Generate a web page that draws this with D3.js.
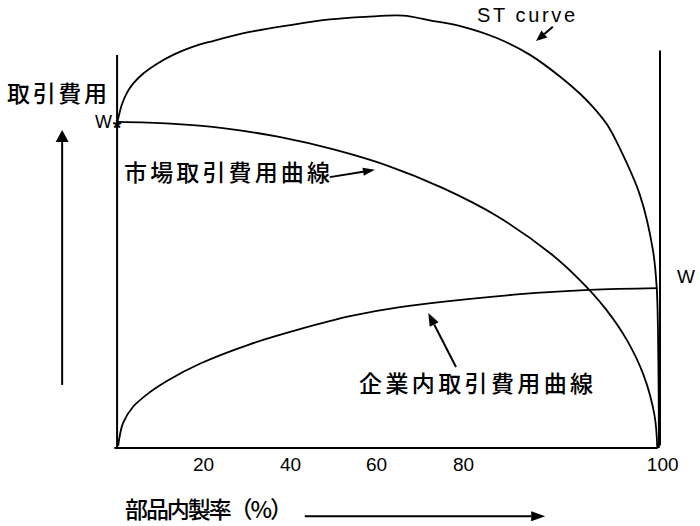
<!DOCTYPE html>
<html><head><meta charset="utf-8">
<script src="https://cdn.jsdelivr.net/npm/d3@7"></script>
<style>html,body{margin:0;padding:0;background:#fff}</style>
</head><body>
<svg id="c" width="700" height="526"></svg>
<script>
// ---- data (x: in-house production share, y: transaction cost, both in chart units) ----
const stX = [0.2, 0.4, 1.05, 1.96, 3.18, 5.02, 7.48, 10.5, 14.2, 17.8, 24.6, 32.0, 39.3, 45.8, 52.8, 57.7, 63.8, 70.0, 76.1, 81.6, 85.3, 87.7, 90.3, 92.6, 96.3, 98.7, 99.4, 99.7, 99.8];
const stY = [75.5, 76.3, 79.4, 82.1, 84.4, 86.7, 88.9, 91.0, 92.9, 94.2, 96.3, 97.9, 99.2, 99.8, 100.1, 99.0, 97.5, 94.9, 91.0, 86.0, 82.0, 78.9, 74.8, 69.4, 58.6, 45.8, 37.0, 20.0, 0];
const marketX = [0.2, 10, 20, 30, 40, 50, 60, 70, 80, 85, 90, 94, 97, 99, 99.5];
const marketY = [75.5, 75.1, 74.0, 72.0, 69.1, 65.3, 60.2, 53.7, 44.9, 39.2, 32.2, 24.8, 16.8, 7.5, 0];
const inhouseX = [0.4, 1.3, 3.1, 6.2, 9.6, 15.4, 24.6, 33.8, 43.0, 52.2, 74.3, 87.0, 99.6];
const inhouseY = [0.5, 5.8, 9.5, 12.9, 15.7, 19.5, 24.0, 27.5, 30.5, 32.6, 35.6, 36.6, 37.0];
const tickValues = [16.0, 32.0, 47.8, 63.8, 100.4];
const tickLabels = ["20", "40", "60", "80", "100"];
const yAxisLabel = "取引費用";
const xAxisLabel = "部品内製率（%）";
const marketLabel = "市場取引費用曲線";
const inhouseLabel = "企業内取引費用曲線";
const stLabel = "ST curve";
const wStarLabel = "W";
const wLabel = "W";
// annotation arrows (tail -> tip), chart units
const arrows = [
  {x1: 80.3, y1: 97.5, x2: 77.2, y2: 94.2, len: 11, w: 9},   // ST curve
  {x1: 39.3, y1: 62.7, x2: 47.6, y2: 64.4, len: 12, w: 8},   // market
  {x1: 62.5, y1: 18.75, x2: 57.4, y2: 31.25, len: 13, w: 10}, // in-house
  {x1: -9.9, y1: 14.6, x2: -9.9, y2: 73.6, len: 12, w: 13},  // y axis
  {x1: 34.7, y1: -15.8, x2: 78.9, y2: -15.8, len: 14, w: 10} // x axis
];

const svg = d3.select("#c");
const x = d3.scaleLinear().domain([0, 100]).range([116, 660]);
const y = d3.scaleLinear().domain([0, 100]).range([448, 16]);
const zip = (a, b) => a.map((v, i) => [v, b[i]]);
const line = d3.line().x(d => x(d[0])).y(d => y(d[1])).curve(d3.curveCatmullRom.alpha(0.5));

// frame
const frame = [
  [[0.2, 0], [0.2, 91]],
  [[100, 0.6], [100, 92]],
  [[-0.3, 0], [99.6, 0]]
];
svg.selectAll("line.frame").data(frame).join("line").attr("class", "frame")
  .attr("x1", d => x(d[0][0])).attr("y1", d => y(d[0][1]))
  .attr("x2", d => x(d[1][0])).attr("y2", d => y(d[1][1]))
  .attr("stroke", "#000").attr("stroke-width", 2);

// curves
const curves = [zip(stX, stY), zip(marketX, marketY), zip(inhouseX, inhouseY)];
svg.selectAll("path.curve").data(curves).join("path").attr("class", "curve")
  .attr("d", line).attr("fill", "none").attr("stroke", "#000").attr("stroke-width", 1.8);

// x tick labels
const ax = svg.append("g").attr("transform", `translate(0,${y(0)})`)
  .call(d3.axisBottom(x).tickValues(tickValues).tickFormat((d, i) => tickLabels[i]).tickSize(0).tickPadding(10));
ax.select(".domain").remove();
ax.selectAll("text").attr("font-family", "Liberation Sans, Arial, sans-serif").attr("font-size", 19).attr("fill", "#000");

// arrows
arrows.forEach(a => {
  const x1 = x(a.x1), y1 = y(a.y1), x2 = x(a.x2), y2 = y(a.y2);
  const ang = Math.atan2(y2 - y1, x2 - x1);
  const bx = x2 - a.len * Math.cos(ang), by = y2 - a.len * Math.sin(ang);
  const px = -Math.sin(ang) * a.w / 2, py = Math.cos(ang) * a.w / 2;
  svg.append("line").attr("x1", x1).attr("y1", y1).attr("x2", bx).attr("y2", by)
    .attr("stroke", "#000").attr("stroke-width", 2);
  svg.append("path").attr("d", `M${x2},${y2}L${bx + px},${by + py}L${bx - px},${by - py}Z`).attr("fill", "#000");
});

// texts
const cjk = "'Noto Sans CJK JP', 'Noto Sans CJK SC', sans-serif";
const texts = [
  {t: yAxisLabel, x: 7, y: 102, len: 100},
  {t: marketLabel, x: 124, y: 181, len: 206},
  {t: inhouseLabel, x: 359, y: 392, len: 234},
  {t: xAxisLabel, x: 125, y: 518, len: 168}
];
texts.forEach(d => {
  svg.append("text").attr("x", d.x).attr("y", d.y).text(d.t)
    .attr("font-family", cjk).attr("font-size", 23).attr("font-weight", 500).attr("fill", "#000")
    .attr("textLength", d.len).attr("lengthAdjust", "spacing");
});
svg.append("text").attr("x", 477).attr("y", 22).text(stLabel)
  .attr("font-family", "Liberation Sans, Arial, sans-serif").attr("font-size", 20)
  .attr("textLength", 98).attr("lengthAdjust", "spacing");
svg.append("text").attr("x", x(0) - 4).attr("y", y(75.5) + 6).attr("text-anchor", "end").text(wStarLabel)
  .attr("font-family", "Liberation Sans, Arial, sans-serif").attr("font-size", 18);
svg.append("text").attr("x", x(0.2)).attr("y", y(75.5) + 13).attr("text-anchor", "middle").text("*")
  .attr("font-family", "Liberation Sans, Arial, sans-serif").attr("font-size", 22).attr("font-weight", "bold");
svg.append("text").attr("x", 677).attr("y", 283).text(wLabel)
  .attr("font-family", "Liberation Sans, Arial, sans-serif").attr("font-size", 19);
</script>
</body></html>
